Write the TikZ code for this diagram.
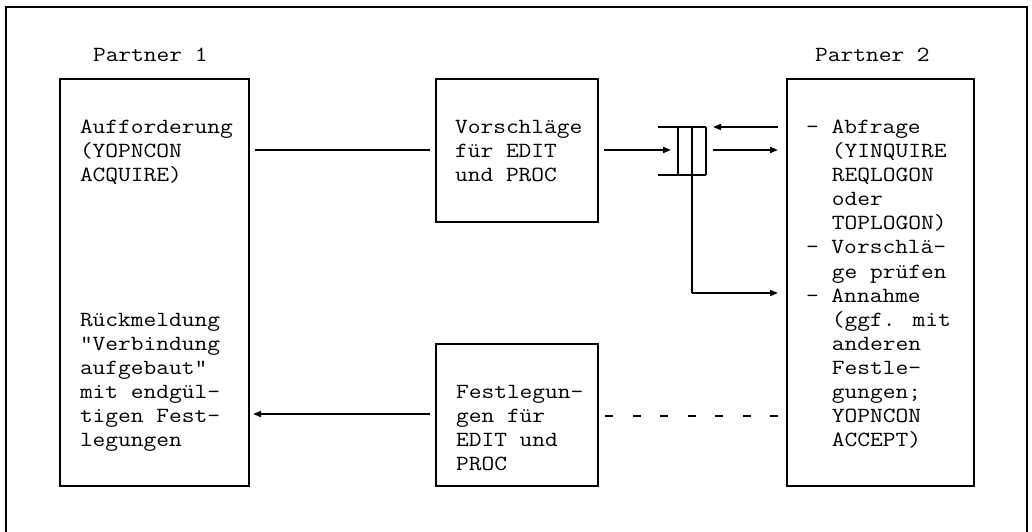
\documentclass[tikz,border=0pt]{standalone}
\usepackage{fontspec}
\newfontfamily\monofnt{Latin Modern Mono}[FakeStretch=1.146]
\usetikzlibrary{arrows.meta}
\tikzset{
  frame/.style={line width=2.7pt},
  box/.style={draw, line width=2.7pt, rectangle, inner sep=0pt, outer sep=0pt},
  txt/.style={inner sep=0pt, outer sep=0pt, align=left, anchor=north west,
    font=\monofnt\fontsize{21.6pt}{24.1pt}\selectfont},
  lbl/.style={inner sep=0pt, outer sep=0pt, anchor=base west,
    font=\monofnt\fontsize{21.6pt}{24.1pt}\selectfont},
  conn/.style={line width=1.8pt},
  arr/.style={line width=1.8pt, -{Triangle[length=8pt,width=6pt]}},
  queue/.style={line width=2pt},
}
\begin{document}
\begin{tikzpicture}[x=1pt,y=-1pt]
\useasboundingbox (0,0) rectangle (1032,531);
% outer frame (open at bottom)
\draw[frame] (6,535) -- (6,7) -- (1027,7) -- (1027,535);
% labels
\node[lbl] (p1) at (93,61) {Partner 1};
\node[lbl] (p2) at (815,61) {Partner 2};
% boxes
\node[box, minimum width=189pt, minimum height=407pt] (lbox) at (154.5,282.5) {};
\node[box, minimum width=162pt, minimum height=143pt] (mtop) at (517,150.5) {};
\node[box, minimum width=162pt, minimum height=142pt] (mbot) at (517,415) {};
\node[box, minimum width=187pt, minimum height=407pt] (rbox) at (880.5,282.5) {};
% texts
\node[txt] (t1) at (80,116.6) {\strut Aufforderung\\(YOPNCON\\ACQUIRE)};
\node[txt] (t2) at (80,309.4) {\strut Rückmeldung\\"Verbindung\\aufgebaut"\\mit endgül-\\tigen Fest-\\legungen};
\node[txt] (t3) at (455,116.6) {\strut Vorschläge\\für EDIT\\und PROC};
\node[txt] (t4) at (456,381.7) {\strut Festlegun-\\gen für\\EDIT und\\PROC};
\node[txt] (t5) at (806,116.6) {\strut - Abfrage\\\hspace*{25.92pt}(YINQUIRE\\\hspace*{25.92pt}REQLOGON\\\hspace*{25.92pt}oder\\\hspace*{25.92pt}TOPLOGON)\\- Vorschlä-\\\hspace*{25.92pt}ge prüfen\\- Annahme\\\hspace*{25.92pt}(ggf. mit\\\hspace*{25.92pt}anderen\\\hspace*{25.92pt}Festle-\\\hspace*{25.92pt}gungen;\\\hspace*{25.92pt}YOPNCON\\\hspace*{25.92pt}ACCEPT)};
% queue symbol
\coordinate (qtl) at (658,127);
\coordinate (qbl) at (658,175);
\coordinate (qa) at (678,127);
\coordinate (qm) at (692,127);
\coordinate (qr) at (706,175);
\coordinate (qdown) at (692,293);
\draw[queue] (qtl) -- (qtl -| qr);
\draw[queue] (qbl) -- (qr);
\draw[queue] (qa) -- (qa |- qr);
\draw[queue] (qa -| qr) -- (qr);
\draw[queue] (qm) -- (qdown);
% row coordinates
\coordinate (r0) at (0,127);
\coordinate (r1) at (0,150);
\coordinate (r7) at (0,293);
\coordinate (rb) at (0,414);
\coordinate (rd) at (0,416);
% connectors
\draw[conn, shorten <=6pt, shorten >=6pt] (lbox.east |- r1) -- (mtop.west |- r1);
\draw[arr, shorten <=6pt, shorten >=7pt] (mtop.east |- r1) -- (qa |- r1);
\draw[arr, shorten <=9pt, shorten >=7pt] (rbox.west |- r0) -- (qr |- r0);
\draw[arr, shorten <=7pt, shorten >=9pt] (qr |- r1) -- (rbox.west |- r1);
\draw[arr, shorten >=9pt] (qdown) -- (rbox.west |- r7);
\draw[conn, dash pattern=on 8pt off 19.5pt, shorten <=9pt, shorten >=6pt] (rbox.west |- rd) -- (mbot.east |- rd);
\draw[arr, shorten <=6pt, shorten >=4pt] (mbot.west |- rb) -- (lbox.east |- rb);
\end{tikzpicture}
\end{document}
